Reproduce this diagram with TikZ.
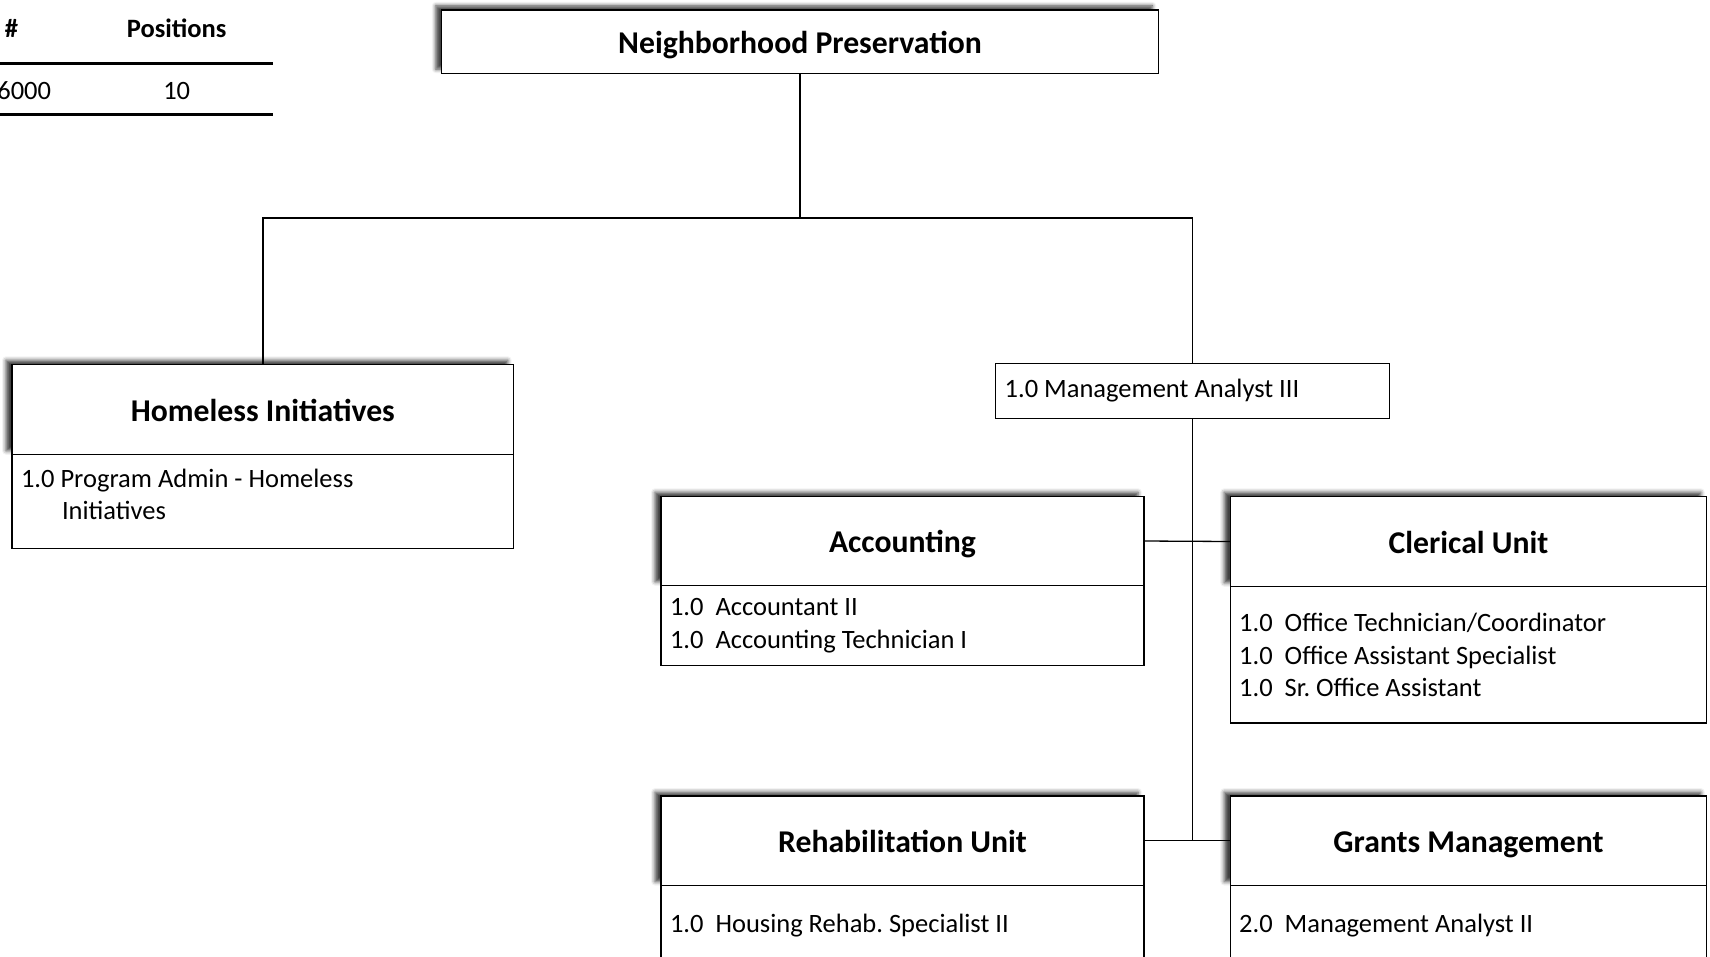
\documentclass[tikz,border=0pt]{standalone}
\usepackage{fontspec}
\setmainfont{Carlito}
\usetikzlibrary{positioning,shadows.blur}
\newcommand{\headfont}{\fontsize{31.7}{38}\selectfont\bfseries}
\newcommand{\stafffont}{\fontsize{26.5}{32.5}\selectfont\frenchspacing}

\begin{document}
\begin{tikzpicture}[x = 1pt, y = -1pt,
  unit/.style = {draw, fill = white, line width = 1.3pt, font = \headfont, inner sep = 0pt, outer sep = 0pt,
    text height = 26pt, text depth = 3pt,
    blur shadow = {shadow xshift = -6pt, shadow yshift = 4pt, shadow blur radius = 4pt, shadow opacity = 75}},
  staff/.style = {draw, line width = 1.3pt, font = \stafffont, align = flush left, inner xsep = 9pt, inner ysep = 0pt, outer sep = 0pt},
  wire/.style = {line width = 1.3pt},
  rule/.style = {line width = 3pt}]
\useasboundingbox (0,0) rectangle (1710,956);
\node[font = \stafffont\bfseries] (hash) at (11.5, 28.4) {\#};
\node[font = \stafffont\bfseries] (poshead) at (176.7, 28.4) {Positions};
\node[font = \stafffont, anchor = east, inner xsep = 0pt] (fundnum) at (51.3, 90.5) {6000};
\node[font = \stafffont] (poscount) at (176.7, 90.5) {10};
\draw[rule] (0, 63.3) -- (272.6, 63.3);
\draw[rule] (0, 114.5) -- (272.6, 114.5);
\node[unit, minimum width = 716.5pt, minimum height = 63.3pt] (top) at (800, 41.5) {Neighborhood Preservation};
\node[unit, minimum width = 501.7pt, minimum height = 90.5pt] (homeless) at (262.85, 409.5) {Homeless Initiatives};
\node[staff, below = 0pt of homeless, text width = 483.7pt, minimum height = 93.8pt] (homelessb) {1.0 Program Admin - Homeless\\\hspace*{41pt}Initiatives\\[-18pt]\mbox{}};
\node[staff, text width = 375.7pt, minimum height = 55.6pt] (ma3) at (1192.5, 391) {1.0 Management Analyst III};
\node[unit, minimum width = 483pt, minimum height = 89.5pt] (acct) at (902.5, 541) {Accounting};
\node[staff, below = 0pt of acct, text width = 465pt, minimum height = 79.6pt] (acctb) {1.0~~Accountant II\\1.0~~Accounting Technician I\\[-28pt]\mbox{}};
\node[unit, minimum width = 476.6pt, minimum height = 90.5pt] (clerical) at (1468.5, 541.5) {Clerical Unit};
\node[staff, below = 0pt of clerical, text width = 458.6pt, minimum height = 136.3pt] (clericalb) {1.0~~Office Technician/Coordinator\\1.0~~Office Assistant Specialist\\1.0~~Sr. Office Assistant};
\node[unit, minimum width = 483pt, minimum height = 89.5pt] (rehab) at (902.5, 840.8) {Rehabilitation Unit};
\node[staff, below = 0pt of rehab, text width = 465pt, minimum height = 80pt] (rehabb) {1.0~~Housing Rehab. Specialist II};
\node[unit, minimum width = 476.6pt, minimum height = 89.5pt] (grants) at (1468.5, 840.8) {Grants Management};
\node[staff, below = 0pt of grants, text width = 458.6pt, minimum height = 80pt] (grantsb) {2.0~~Management Analyst II};
\coordinate (split) at (800, 218);
\draw[wire] (top) -- (split);
\draw[wire] (homeless.north) -- (homeless.north |- split) -- (ma3.north |- split) -- (ma3.north);
\draw[wire] (ma3.south) -- (ma3.south |- rehab.east);
\draw[wire] (acct.east) -- (clerical.west);
\draw[wire] (rehab.east) -- (grants.west);
\end{tikzpicture}
\end{document}
